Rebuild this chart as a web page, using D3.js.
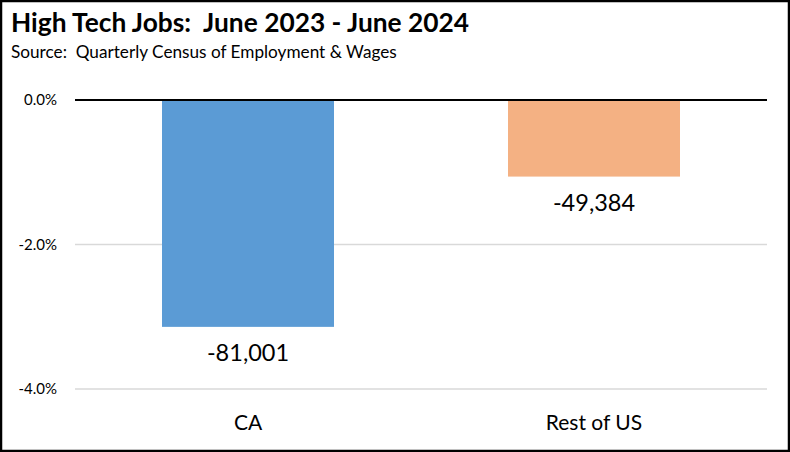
<!DOCTYPE html>
<html><head><meta charset="utf-8">
<script src="https://cdn.jsdelivr.net/npm/d3@7"></script>
<style>html,body{margin:0;padding:0;background:#fff;}svg{display:block;}</style>
</head><body>
<script>
const categories = ["CA", "Rest of US"];
const pctChange = [-3.14, -1.06];
const jobLabels = ["-81,001", "-49,384"];
const barColors = ["#5b9bd5", "#f4b183"];
const yTicks = [0, -2, -4];

const W = 790, H = 452;
const svg = d3.select("body").append("svg").attr("width", W).attr("height", H);
svg.append("rect").attr("x", 1).attr("y", 1).attr("width", W - 2).attr("height", H - 2)
  .attr("fill", "#fff").attr("stroke", "#000").attr("stroke-width", 2.5);

const font = "Lato, Carlito, Calibri, sans-serif";
svg.append("text").attr("x", 11).attr("y", 32).attr("font-family", font).attr("font-weight", 700)
  .attr("font-size", 26.3).attr("fill", "#000").attr("xml:space", "preserve").text("High Tech Jobs:  June 2023 - June 2024");
svg.append("text").attr("x", 11).attr("y", 58).attr("font-family", font)
  .attr("font-size", 17.2).attr("fill", "#000").attr("xml:space", "preserve").text("Source:  Quarterly Census of Employment & Wages");

const x = d3.scaleBand().domain(categories).range([75, 767]).paddingInner(0).paddingOuter(0);
const y = d3.scaleLinear().domain([-4, 0]).range([389, 100]);
const barW = 172;

// gridlines
svg.append("g").selectAll("line").data(yTicks.filter(d => d !== 0)).join("line")
  .attr("x1", 75).attr("x2", 767).attr("y1", d => y(d)).attr("y2", d => y(d))
  .attr("stroke", "#d9d9d9").attr("stroke-width", 1.5);

// tick labels
svg.append("g").selectAll("text").data(yTicks).join("text")
  .attr("x", 57).attr("y", d => y(d) + 5).attr("text-anchor", "end")
  .attr("font-family", font).attr("font-size", 15).attr("fill", "#000")
  .text(d => d3.format(".1f")(d).replace("\u2212", "-") + "%");

// bars
svg.append("g").selectAll("rect").data(categories).join("rect")
  .attr("x", d => x(d) + x.bandwidth() / 2 - barW / 2).attr("width", barW)
  .attr("y", y(0)).attr("height", (d, i) => y(pctChange[i]) - y(0))
  .attr("fill", (d, i) => barColors[i]);

// zero line
svg.append("line").attr("x1", 75).attr("x2", 767).attr("y1", y(0)).attr("y2", y(0))
  .attr("stroke", "#000").attr("stroke-width", 2);

// data labels
svg.append("g").selectAll("text").data(categories).join("text")
  .attr("x", d => x(d) + x.bandwidth() / 2).attr("y", (d, i) => y(pctChange[i]) + 34)
  .attr("text-anchor", "middle").attr("font-family", font).attr("font-size", 23.5).attr("fill", "#000")
  .text((d, i) => jobLabels[i]);

// category labels
svg.append("g").selectAll("text").data(categories).join("text")
  .attr("x", d => x(d) + x.bandwidth() / 2).attr("y", 430)
  .attr("text-anchor", "middle").attr("font-family", font).attr("font-size", 21).attr("fill", "#000")
  .text(d => d);
</script>
</body></html>
